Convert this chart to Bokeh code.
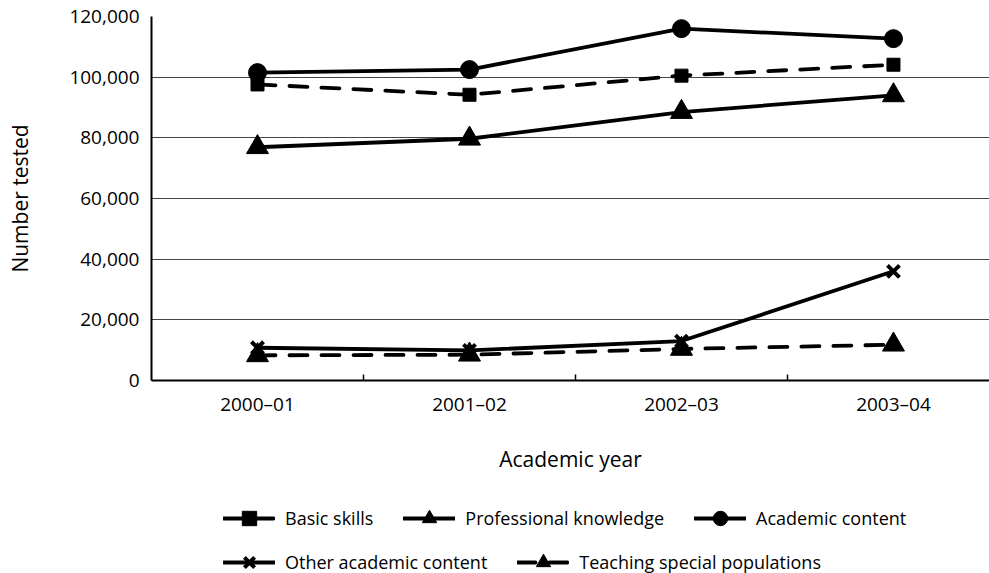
from bokeh.plotting import figure
from bokeh.layouts import column
from bokeh.models import Range1d, FixedTicker, NumeralTickFormatter, Legend, LegendItem
from bokeh.embed import file_html
from bokeh.resources import INLINE

# ---- data ----
years = ["2000–01", "2001–02", "2002–03", "2003–04"]
basic_skills = [97600, 94200, 100500, 104100]
professional_knowledge = [76900, 79700, 88500, 94000]
academic_content = [101500, 102500, 116000, 112700]
other_academic_content = [10800, 9900, 13000, 36000]
teaching_special_populations = [8300, 8500, 10400, 11800]
y_ticks = [0, 20000, 40000, 60000, 80000, 100000, 120000]

FONT = "Open Sans"
x = [i + 0.5 for i in range(len(years))]
boundaries = [i for i in range(1, len(years))]

LW = 3.8
DASH = "18 14"

series = [
    ("Basic skills", basic_skills, DASH, "square", 13, 1),
    ("Professional knowledge", professional_knowledge, "solid", "triangle", 22, 1),
    ("Academic content", academic_content, "solid", "circle", 18, 1),
    ("Other academic content", other_academic_content, "solid", "x", 17, 4),
    ("Teaching special populations", teaching_special_populations, DASH, "triangle", 22, 1),
]


def draw(fig, visible=True):
    out = []
    for name, vals, dash, marker, size, mlw in series:
        rl = fig.line(x, vals, line_width=LW, line_dash=dash, line_cap="round",
                      color="black", visible=visible)
        rm = fig.scatter(x, vals, marker=marker, size=size, line_width=mlw,
                         color="black", visible=visible)
        out.append((name, rl, rm))
    return out


# ---- main chart ----
p = figure(width=989, height=478, output_backend="svg", toolbar_location=None,
           x_range=Range1d(0, 3.953), y_range=Range1d(0, 120000),
           min_border_left=151, min_border_right=0, min_border_top=16,
           min_border_bottom=98)
p.outline_line_color = None
p.background_fill_color = "white"
p.border_fill_color = "white"
draw(p)

xa = p.xaxis[0]
xa.ticker = FixedTicker(ticks=x, minor_ticks=boundaries)
xa.major_label_overrides = {xi: yr for xi, yr in zip(x, years)}
xa.major_tick_line_color = None
xa.major_tick_in = 0
xa.major_tick_out = 0
xa.minor_tick_in = 6
xa.minor_tick_out = 0
xa.minor_tick_line_color = "black"
xa.minor_tick_line_width = 1.5
xa.axis_line_width = 2
xa.axis_line_color = "black"
xa.major_label_standoff = 10
xa.major_label_text_font = FONT
xa.major_label_text_font_size = "19px"
xa.major_label_text_color = "black"
xa.axis_label = "Academic year"
xa.axis_label_text_font = FONT
xa.axis_label_text_font_size = "21px"
xa.axis_label_text_font_style = "normal"
xa.axis_label_text_color = "black"
xa.axis_label_standoff = 25

ya = p.yaxis[0]
ya.ticker = FixedTicker(ticks=y_ticks)
ya.formatter = NumeralTickFormatter(format="0,0")
ya.major_tick_line_color = None
ya.major_tick_in = 0
ya.major_tick_out = 0
ya.minor_tick_line_color = None
ya.minor_tick_out = 0
ya.axis_line_width = 2
ya.axis_line_color = "black"
ya.major_label_standoff = 12
ya.major_label_text_font = FONT
ya.major_label_text_font_size = "19px"
ya.major_label_text_color = "black"
ya.axis_label = "Number tested"
ya.axis_label_text_font = FONT
ya.axis_label_text_font_size = "21px"
ya.axis_label_text_font_style = "normal"
ya.axis_label_text_color = "black"
ya.axis_label_standoff = 32

p.xgrid.visible = False
p.ygrid.ticker = FixedTicker(ticks=y_ticks)
p.ygrid.grid_line_color = "#444444"
p.ygrid.grid_line_width = 1

# ---- legend strip (frame aligned with the chart's frame) ----
lp = figure(width=989, height=95, output_backend="svg", toolbar_location=None,
            x_axis_type=None, y_axis_type=None, min_border=0)
lp.outline_line_color = None
lp.background_fill_color = "white"
lp.border_fill_color = "white"
lr = draw(lp, visible=False)


def make_legend(entries, loc):
    return Legend(items=[LegendItem(label=n, renderers=[a, b]) for n, a, b in entries],
                  orientation="horizontal", location=loc, click_policy="none",
                  glyph_width=52, glyph_height=36, label_standoff=10, spacing=30,
                  padding=0, margin=0, border_line_alpha=0, background_fill_alpha=0,
                  label_text_font=FONT, label_text_font_size="18px",
                  label_text_color="black")


lp.add_layout(make_legend(lr[:3], (72, 37)))
lp.add_layout(make_legend(lr[3:], (72, -7)))

layout = column(p, lp, spacing=0)
open("out.html", "w").write(file_html(layout, INLINE))
